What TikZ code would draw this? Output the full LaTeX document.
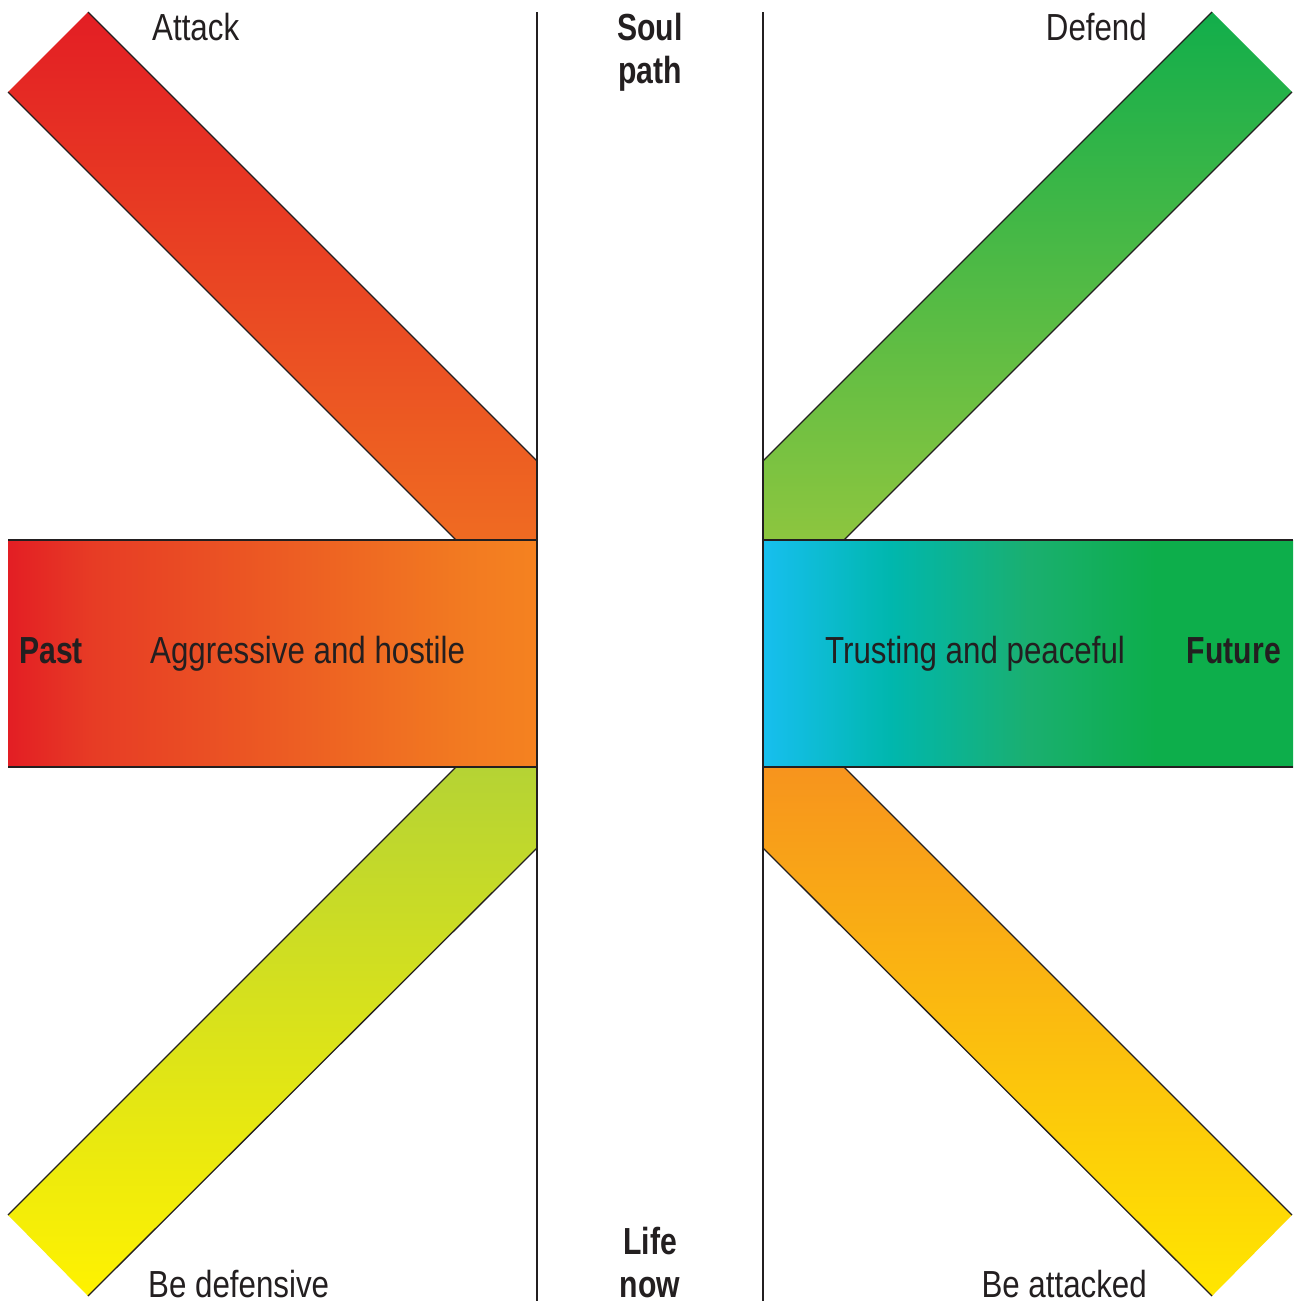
\documentclass[tikz,border=0pt]{standalone}
\usepackage{fontspec}
\newfontfamily\creg{Liberation Sans}[FakeStretch=0.83]
\newfontfamily\cbold{Liberation Sans}[FakeStretch=0.80]
\definecolor{ink}{HTML}{231F20}
\definecolor{redA}{HTML}{E31E24}
\definecolor{redB}{HTML}{E73C25}
\definecolor{orM}{HTML}{EC5A23}
\definecolor{orN}{HTML}{F27A21}
\definecolor{orR}{HTML}{F58220}
\definecolor{tlBot}{HTML}{EF6B22}
\definecolor{cyanL}{HTML}{17BFEF}
\definecolor{tealA}{HTML}{00B7AE}
\definecolor{midG}{HTML}{1AAF70}
\definecolor{greenR}{HTML}{0DAE4B}
\definecolor{trTop}{HTML}{12AE4B}
\definecolor{trBot}{HTML}{8DC63F}
\definecolor{blTop}{HTML}{B5D334}
\definecolor{blBot}{HTML}{FFF200}
\definecolor{brTop}{HTML}{F7941D}
\definecolor{brBot}{HTML}{FFE600}
\pgfdeclarehorizontalshading{pastshade}{100bp}{color(0bp)=(redA); color(25bp)=(redA); color(33bp)=(redB); color(50bp)=(orM); color(68bp)=(orN); color(75bp)=(orR); color(100bp)=(orR)}
\pgfdeclarehorizontalshading{futureshade}{100bp}{color(0bp)=(cyanL); color(25bp)=(cyanL); color(37bp)=(tealA); color(50bp)=(midG); color(62bp)=(greenR); color(100bp)=(greenR)}
\begin{document}
\begin{tikzpicture}[x=1pt,y=-1pt,
  lbl/.style={inner sep=0pt, text=ink, font=\creg\fontsize{37.7}{43}\selectfont},
  blbl/.style={inner sep=0pt, text=ink, font=\cbold\bfseries\fontsize{37.7}{43}\selectfont},
  outline/.style={line width=1.3pt, draw=ink},
  divider/.style={line width=1.4pt, draw=ink}]
\useasboundingbox[fill=white] (0,0) rectangle (1297,1301);

% horizontal bars
\shade[shading=pastshade] (8,540) rectangle (537,767);
\shade[shading=futureshade] (763,540) rectangle (1293,767);

% diagonal bands
\shade[top color=redA, bottom color=tlBot] (8,92) -- (88,12) -- (537,461) -- (537,540) -- (456,540) -- cycle;
\shade[top color=trTop, bottom color=trBot] (1292,92) -- (1212,12) -- (763,461) -- (763,540) -- (844,540) -- cycle;
\shade[top color=blTop, bottom color=blBot] (456,767) -- (537,767) -- (537,848) -- (88,1296) -- (8,1215) -- cycle;
\shade[top color=brTop, bottom color=brBot] (844,767) -- (763,767) -- (763,848) -- (1212,1296) -- (1292,1215) -- cycle;

% band outlines (long sides)
\draw[outline] (88,12) -- (537,461);
\draw[outline] (8,92) -- (456,540);
\draw[outline] (1212,12) -- (763,461);
\draw[outline] (1292,92) -- (844,540);
\draw[outline] (456,767) -- (8,1215);
\draw[outline] (537,848) -- (88,1296);
\draw[outline] (844,767) -- (1292,1215);
\draw[outline] (763,848) -- (1212,1296);

% bar edges
\draw[outline] (8,540) -- (537,540);
\draw[outline] (8,767) -- (537,767);
\draw[outline] (763,540) -- (1293,540);
\draw[outline] (763,767) -- (1293,767);

% dividers
\draw[divider] (537,12) -- (537,1301);
\draw[divider] (763,12) -- (763,1301);

% labels
\node[lbl, anchor=base west] (attack) at (152,40) {Attack};
\node[lbl, anchor=base east] (defend) at (1147,40) {Defend};
\node[blbl, anchor=base] (soul) at (650,40) {Soul};
\node[blbl, anchor=base] (path) at (650,83) {path};
\node[blbl, anchor=base] (life) at (650,1254) {Life};
\node[blbl, anchor=base] (now) at (650,1297) {now};
\node[lbl, anchor=base west] (bedef) at (148,1297) {Be defensive};
\node[lbl, anchor=base east] (beatt) at (1147,1297) {Be attacked};
\node[blbl, anchor=base west] (past) at (19,663) {Past};
\node[lbl, anchor=base west] (aggr) at (150,663) {Aggressive and hostile};
\node[lbl, anchor=base west] (trust) at (825,663) {Trusting and peaceful};
\node[blbl, anchor=base east] (future) at (1281,663) {Future};
\end{tikzpicture}
\end{document}
